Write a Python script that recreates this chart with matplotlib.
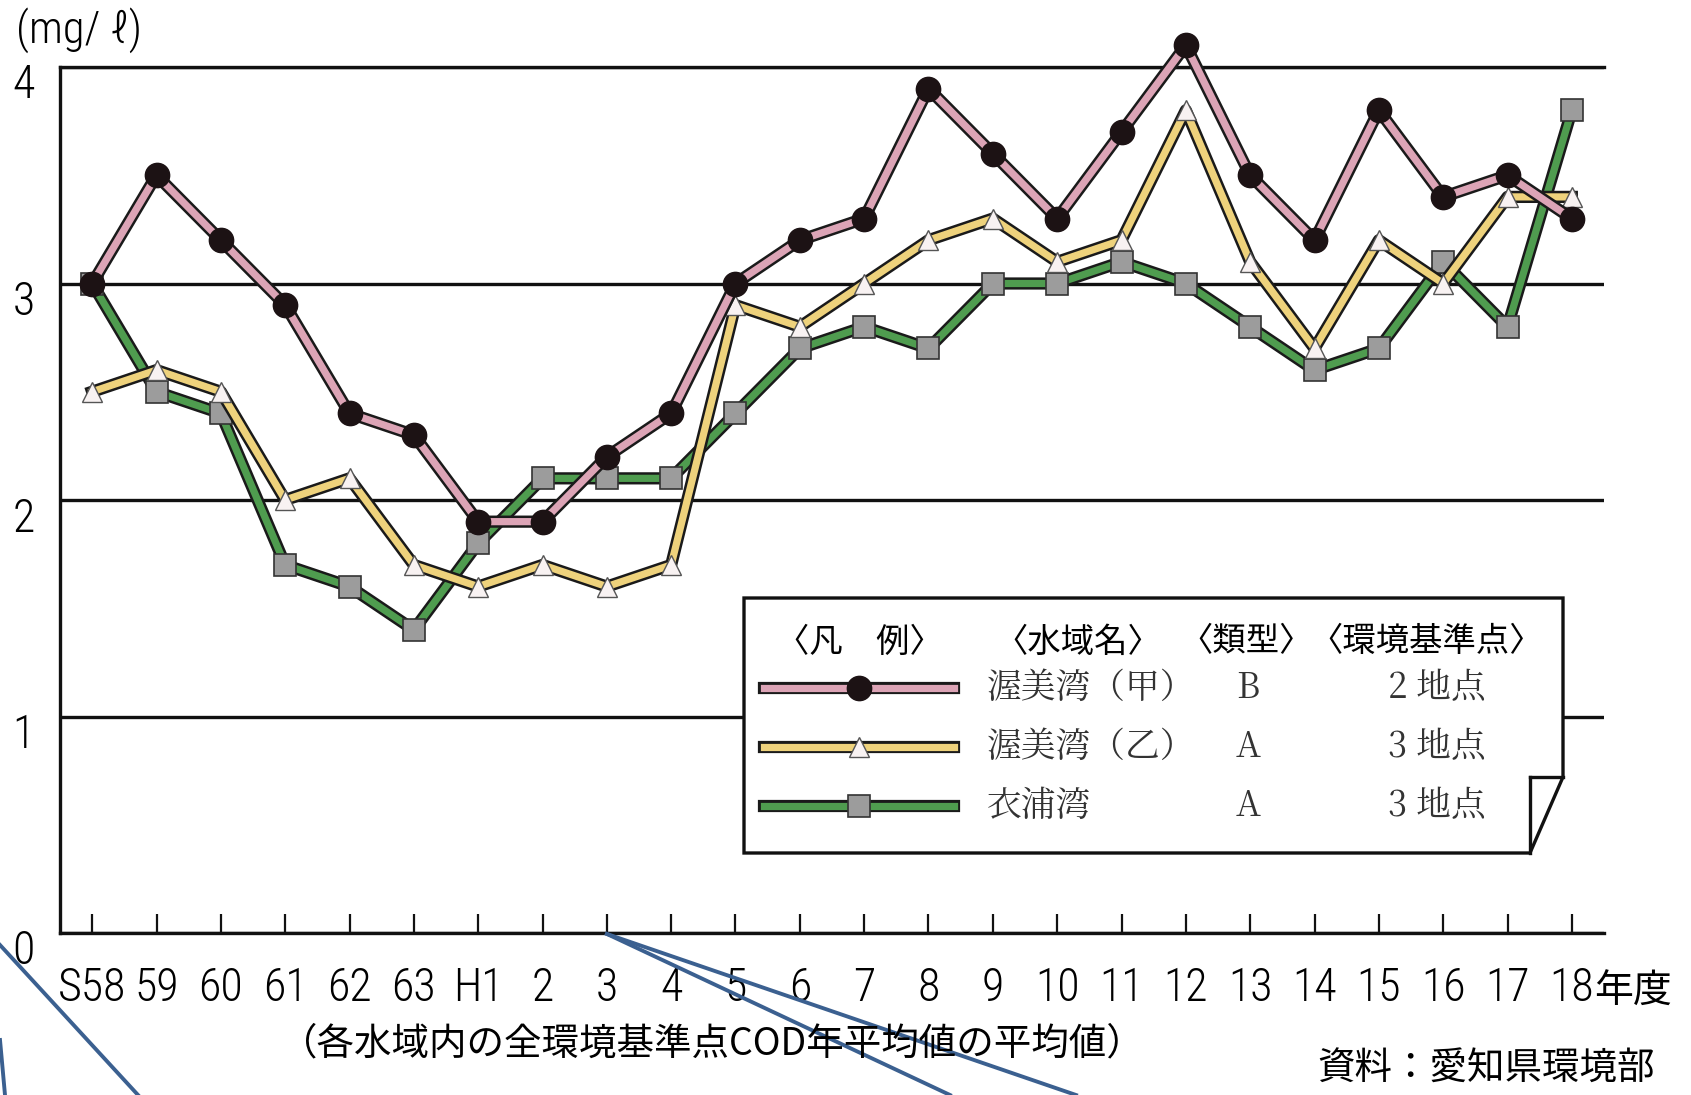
import matplotlib
matplotlib.use("Agg")
import matplotlib.pyplot as plt
import matplotlib.patheffects as pe
import matplotlib.transforms as mtransforms
from matplotlib.lines import Line2D
from matplotlib.patches import Polygon

# 年度
years = ['S58', '59', '60', '61', '62', '63', 'H1', '2', '3', '4', '5', '6',
         '7', '8', '9', '10', '11', '12', '13', '14', '15', '16', '17', '18']

# COD 年平均値 (mg/l)
atsumi_kou = [3.0, 3.5, 3.2, 2.9, 2.4, 2.3, 1.9, 1.9, 2.2, 2.4, 3.0, 3.2,
              3.3, 3.9, 3.6, 3.3, 3.7, 4.1, 3.5, 3.2, 3.8, 3.4, 3.5, 3.3]
atsumi_otsu = [2.5, 2.6, 2.5, 2.0, 2.1, 1.7, 1.6, 1.7, 1.6, 1.7, 2.9, 2.8,
               3.0, 3.2, 3.3, 3.1, 3.2, 3.8, 3.1, 2.7, 3.2, 3.0, 3.4, 3.4]
kinuura = [3.0, 2.5, 2.4, 1.7, 1.6, 1.4, 1.8, 2.1, 2.1, 2.1, 2.4, 2.7,
           2.8, 2.7, 3.0, 3.0, 3.1, 3.0, 2.8, 2.6, 2.7, 3.1, 2.8, 3.8]

legend_names = ['渥美湾（甲）', '渥美湾（乙）', '衣浦湾']
legend_types = ['B', 'A', 'A']
legend_points = ['2 地点', '3 地点', '3 地点']

NUM = ['Roboto Condensed', 'Liberation Sans', 'DejaVu Sans']
JP = ['Noto Sans CJK JP', 'DejaVu Sans']
MIN = ['Noto Serif CJK JP', 'Noto Sans CJK JP', 'DejaVu Serif']

W, H = 1691, 1095
fig = plt.figure(figsize=(W / 100, H / 100), dpi=100)


def fx(x):
    return x / W


def fy(y):
    return 1 - y / H


ax = fig.add_axes([fx(60), fy(933), fx(1604) - fx(60), fy(67) - fy(933)])
x = list(range(len(years)))

styles = [
    (atsumi_kou, '#dca4b6', dict(marker='o', ms=17.5, mfc='#1c1214', mec='#1c1214', mew=1), 5),
    (atsumi_otsu, '#eed27c', dict(marker='^', ms=15, mfc='#f8f2f2', mec='#555555', mew=1), 4),
    (kinuura, '#4f9c4f', dict(marker='s', ms=16, mfc='#9c9c9c', mec='#333333', mew=1.2), 3),
]
outline = [pe.Stroke(linewidth=8.8, foreground='#1a1a1a'), pe.Normal()]

for vals, col, mk, z in styles:
    ln, = ax.plot(x, vals, color=col, lw=5.2, zorder=z, clip_on=False)
    ln.set_path_effects(outline)
    ax.plot(x, vals, lw=0, zorder=z + 0.5, clip_on=False, **mk)

ax.set_xlim(-0.5, len(years) - 0.5)
ax.set_ylim(0, 4)
ax.set_yticks([0, 1, 2, 3, 4])
ax.set_yticklabels(['0', '1', '2', '3', '4'], fontfamily=NUM, fontweight='light', fontsize=33)
ax.set_xticks(x)
ax.set_xticklabels(years, fontfamily=NUM, fontweight='light', fontsize=33)
ax.tick_params(axis='y', length=0, pad=18)
ax.tick_params(axis='x', direction='in', length=14, width=1.6, pad=24, color='#111111')
ax.grid(axis='y', color='#111111', lw=2.4, zorder=1)
ax.set_axisbelow(True)
for side in ['left', 'top', 'bottom']:
    ax.spines[side].set_linewidth(2.4)
    ax.spines[side].set_color('#111111')
ax.spines['right'].set_visible(False)

# y ラベルを少し下げる
shift = mtransforms.ScaledTranslation(0, -0.14, fig.dpi_scale_trans)
for lab in ax.get_yticklabels():
    lab.set_transform(lab.get_transform() + shift)

ax.annotate('年度', xy=(len(years) - 1, 0), xycoords='data', xytext=(16, -42),
            textcoords='offset points', ha='left', va='center',
            fontfamily=JP, fontsize=28, annotation_clip=False)

fig.text(fx(16), fy(30), '(mg/ ℓ)', fontfamily=NUM, fontweight='light',
         fontsize=32, ha='left', va='center')
fig.text(fx(712), fy(1044), '（各水域内の全環境基準点COD年平均値の平均値）',
         fontfamily=JP, fontsize=27, ha='center', va='center')
fig.text(fx(1655), fy(1068), '資料：愛知県環境部', fontfamily=JP, fontsize=27,
         ha='right', va='center')

# 凡例の枠 (右下が折れた形)
box = Polygon([(fx(744), fy(598)), (fx(1563), fy(598)), (fx(1563), fy(777)),
               (fx(1530), fy(853)), (fx(744), fy(853))], closed=True,
              transform=fig.transFigure, facecolor='white', edgecolor='#111111', lw=2.4)
fig.add_artist(box)
fig.add_artist(Line2D([fx(1530), fx(1563)], [fy(777), fy(777)], color='#111111', lw=2.4,
                      transform=fig.transFigure))
fig.add_artist(Line2D([fx(1530), fx(1530)], [fy(777), fy(853)], color='#111111', lw=2.4,
                      transform=fig.transFigure))

head_y = fy(642)
for txt, cx in [('〈凡　例〉', 859), ('〈水域名〉', 1078), ('〈類型〉', 1246), ('〈環境基準点〉', 1426)]:
    fig.text(fx(cx), head_y, txt, fontfamily=JP, fontsize=24, ha='center', va='center')

row_y = [688, 747, 806]
for (vals, col, mk, z), ry, nm, tp, pt in zip(styles, row_y, legend_names, legend_types, legend_points):
    sample = Line2D([fx(764), fx(954)], [fy(ry), fy(ry)], color=col, lw=5.2,
                    transform=fig.transFigure)
    sample.set_path_effects(outline)
    fig.add_artist(sample)
    fig.add_artist(Line2D([fx(859)], [fy(ry)], transform=fig.transFigure, lw=0, **mk))
    fig.text(fx(987), fy(ry), nm, fontfamily=MIN, fontsize=25, ha='left', va='center', color='#333333')
    fig.text(fx(1248), fy(ry), tp, fontfamily=MIN, fontsize=25, ha='center', va='center', color='#333333')
    fig.text(fx(1486), fy(ry), pt, fontfamily=MIN, fontsize=25, ha='right', va='center', color='#333333')

# 青い線
for (x0, y0), (x1, y1) in [((0, 945), (138, 1095)), ((0, 1040), (5, 1095)),
                           ((607, 934), (950, 1095)), ((607, 934), (1076, 1095))]:
    fig.add_artist(Line2D([fx(x0), fx(x1)], [fy(y0), fy(y1)], color='#3b6090', lw=2.8,
                          transform=fig.transFigure))

fig.savefig('out.png', dpi=100)
